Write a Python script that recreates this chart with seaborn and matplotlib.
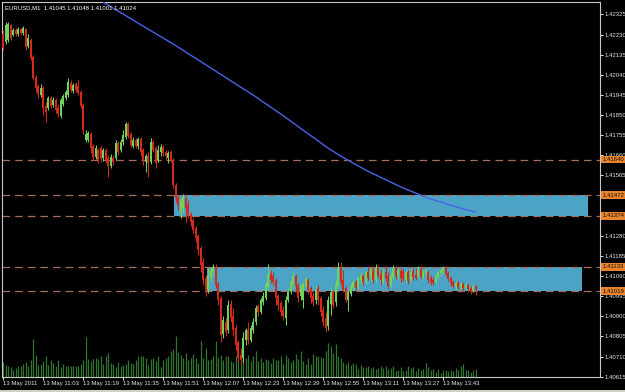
import matplotlib
matplotlib.use("Agg")
import matplotlib.pyplot as plt
import matplotlib.transforms as mtransforms
from matplotlib.patches import Rectangle
import numpy as np
import pandas as pd
import seaborn as sns

# ---------------- data (prices in 1e-5 units, EURUSD M1, 13 May 2011) ----------------
header = "EURUSD,M1  1.41045 1.41048 1.41001 1.41024"

open_pts = [
    142232, 142195, 142204, 142275, 142228, 142251, 142232, 142256, 142237, 142256,
    142176, 142204, 142124, 142030, 141987, 141945, 141978, 141893, 141883, 141930,
    141897, 141921, 141883, 141846, 141902, 141930, 141945, 142001, 141963, 141996,
    141987, 141959, 141897, 141732, 141732, 141760, 141704, 141652, 141685, 141694,
    141647, 141685, 141647, 141610, 141647, 141647, 141718, 141685, 141723, 141746,
    141808, 141760, 141704, 141732, 141704, 141737, 141685, 141628, 141657, 141628,
    141723, 141694, 141638, 141676, 141699, 141676, 141647, 141676, 141638, 141520,
    141463, 141392, 141411, 141458, 141425, 141383, 141355, 141317, 141279, 141222,
    141156, 141081, 141024, 141081, 141109, 141133, 141052, 140986, 140817, 140873,
    140835, 140958, 140902, 140845, 140779, 140717, 140703, 140788, 140835, 140788,
    140835, 140873, 140949, 140920, 140968, 140986, 141043, 141100, 141090, 141071,
    140996, 140963, 140930, 140892, 140977, 141015, 141048, 141090, 141048, 140996,
    140977, 141043, 141071, 141034, 140996, 140977, 141034, 140986, 140930, 140892,
    140854, 140958, 141015, 140968, 141043, 141128, 141071, 141034, 140977, 141005,
    141034, 141062, 141034, 141071, 141090, 141062, 141109, 141081, 141119, 141071,
    141128, 141100, 141062, 141109, 141090, 141048, 141081, 141128, 141090, 141114,
    141114, 141071, 141109, 141071, 141114, 141095, 141090, 141123, 141086, 141104,
    141109, 141081, 141071, 141062, 141086, 141104, 141114, 141128, 141104, 141081,
    141062, 141038, 141057, 141038, 141052, 141034, 141048, 141034, 141024, 141045,
]
high_pts = [
    142251, 142289, 142289, 142280, 142261, 142261, 142266, 142261, 142270, 142261,
    142232, 142214, 142133, 142039, 141996, 141996, 141987, 141912, 141940, 141940,
    141935, 141930, 141902, 141930, 141949, 141968, 142025, 142015, 142001, 142006,
    142015, 141968, 141907, 141779, 141775, 141770, 141713, 141709, 141694, 141704,
    141694, 141694, 141661, 141666, 141661, 141732, 141728, 141737, 141779, 141817,
    141817, 141770, 141746, 141742, 141746, 141746, 141694, 141666, 141676, 141742,
    141732, 141704, 141709, 141713, 141709, 141685, 141680, 141685, 141647, 141529,
    141473, 141458, 141477, 141468, 141449, 141392, 141364, 141326, 141288, 141232,
    141175, 141095, 141128, 141133, 141147, 141147, 141062, 140996, 140902, 140892,
    140977, 140977, 140939, 140859, 140788, 140750, 140826, 140845, 140873, 140859,
    140892, 140953, 140958, 140986, 141015, 141062, 141147, 141119, 141109, 141081,
    141005, 140977, 140949, 140996, 141034, 141071, 141109, 141100, 141057, 141052,
    141062, 141090, 141081, 141043, 141015, 141043, 141048, 140996, 140949, 140920,
    140996, 141034, 141024, 141071, 141156, 141156, 141119, 141043, 141024, 141057,
    141071, 141071, 141090, 141109, 141100, 141119, 141137, 141128, 141137, 141147,
    141142, 141119, 141128, 141137, 141109, 141104, 141142, 141137, 141133, 141128,
    141128, 141119, 141119, 141128, 141128, 141128, 141137, 141137, 141119, 141128,
    141119, 141095, 141086, 141100, 141119, 141128, 141137, 141137, 141114, 141090,
    141071, 141067, 141067, 141062, 141062, 141057, 141057, 141043, 141052, 141048,
]
low_pts = [
    142157, 142185, 142195, 142204, 142223, 142223, 142223, 142228, 142228, 142157,
    142166, 142110, 142015, 141959, 141930, 141935, 141850, 141817, 141874, 141883,
    141888, 141860, 141841, 141836, 141893, 141921, 141935, 141959, 141954, 141959,
    141945, 141883, 141760, 141723, 141723, 141671, 141638, 141643, 141624, 141628,
    141633, 141624, 141558, 141600, 141614, 141638, 141661, 141676, 141709, 141737,
    141742, 141699, 141694, 141694, 141690, 141657, 141614, 141581, 141558, 141619,
    141676, 141600, 141628, 141657, 141657, 141638, 141624, 141628, 141506, 141440,
    141402, 141364, 141392, 141345, 141364, 141326, 141293, 141251, 141189, 141109,
    141048, 140996, 141010, 141062, 141090, 141034, 140953, 140779, 140798, 140807,
    140821, 140873, 140807, 140741, 140684, 140670, 140684, 140765, 140769, 140779,
    140821, 140859, 140902, 140911, 140953, 140977, 141024, 141057, 141048, 140953,
    140930, 140902, 140883, 140859, 140968, 141005, 141034, 141015, 140968, 140977,
    140939, 141034, 141005, 140963, 140949, 140958, 140953, 140902, 140854, 140826,
    140835, 140906, 140939, 140949, 141034, 141048, 141015, 140968, 140925, 140996,
    141019, 141024, 141024, 141057, 141048, 141052, 141071, 141067, 141057, 141062,
    141081, 141052, 141052, 141067, 141029, 141038, 141071, 141076, 141076, 141062,
    141067, 141062, 141052, 141062, 141071, 141071, 141081, 141081, 141076, 141090,
    141057, 141048, 141048, 141052, 141076, 141090, 141100, 141090, 141067, 141043,
    141034, 141024, 141029, 141029, 141019, 141024, 141015, 141005, 141015, 141001,
]
close_pts = [
    142166, 142275, 142280, 142214, 142251, 142232, 142256, 142237, 142261, 142171,
    142214, 142119, 142025, 141978, 141949, 141978, 141883, 141864, 141930, 141893,
    141921, 141874, 141855, 141921, 141940, 141959, 142006, 141968, 141992, 141968,
    141954, 141893, 141779, 141760, 141765, 141694, 141652, 141694, 141638, 141647,
    141685, 141638, 141610, 141652, 141628, 141718, 141676, 141723, 141756, 141808,
    141751, 141709, 141732, 141704, 141737, 141676, 141638, 141657, 141624, 141723,
    141685, 141624, 141685, 141699, 141671, 141657, 141671, 141638, 141520, 141458,
    141421, 141449, 141463, 141411, 141378, 141345, 141307, 141270, 141213, 141142,
    141071, 141024, 141090, 141119, 141133, 141048, 140977, 140812, 140883, 140826,
    140953, 140892, 140835, 140765, 140703, 140694, 140798, 140835, 140788, 140845,
    140873, 140939, 140920, 140977, 140996, 141048, 141100, 141071, 141062, 140986,
    140953, 140920, 140902, 140977, 141015, 141062, 141090, 141043, 140986, 141043,
    141052, 141076, 141024, 140986, 140968, 141024, 140977, 140920, 140873, 140845,
    140977, 141015, 140953, 141052, 141128, 141062, 141024, 140977, 141015, 141043,
    141062, 141034, 141081, 141095, 141062, 141109, 141081, 141119, 141071, 141128,
    141090, 141071, 141109, 141081, 141043, 141090, 141128, 141090, 141119, 141081,
    141076, 141109, 141067, 141109, 141086, 141081, 141123, 141090, 141109, 141119,
    141071, 141062, 141057, 141090, 141109, 141119, 141128, 141100, 141076, 141057,
    141043, 141057, 141038, 141052, 141034, 141048, 141029, 141015, 141043, 141024,
]
volume = [
    15, 12, 11, 10, 7, 9, 11, 11, 13, 15,
    11, 17, 38, 22, 12, 13, 16, 21, 12, 17,
    14, 11, 17, 10, 13, 11, 11, 11, 11, 11,
    11, 13, 17, 40, 18, 16, 18, 19, 18, 21,
    13, 21, 24, 14, 13, 10, 15, 11, 12, 13,
    17, 14, 13, 17, 21, 21, 21, 19, 12, 18,
    19, 16, 21, 10, 17, 19, 21, 26, 28, 41,
    25, 22, 19, 24, 17, 19, 23, 19, 14, 36,
    19, 29, 17, 18, 21, 36, 20, 22, 17, 21,
    21, 16, 15, 21, 17, 26, 18, 19, 22, 16,
    21, 26, 16, 19, 15, 18, 17, 14, 19, 17,
    17, 21, 13, 22, 19, 15, 17, 23, 18, 26,
    16, 13, 19, 13, 23, 21, 21, 20, 19, 26,
    34, 31, 24, 33, 21, 19, 15, 13, 15, 12,
    14, 13, 8, 12, 10, 10, 11, 9, 10, 8,
    9, 11, 9, 11, 8, 9, 11, 6, 7, 10,
    6, 7, 11, 9, 10, 6, 9, 7, 8, 14,
    10, 7, 8, 5, 8, 4, 7, 7, 6, 7,
    6, 9, 7, 11, 13, 7, 7, 5, 7, 8,
]

# moving average (read at every 5th bar)
ma_bar = [40, 45, 50, 55, 60, 65, 70, 75, 80, 85, 90, 95, 100, 105, 110, 115,
          120, 125, 130, 135, 140, 145, 150, 155, 160, 165, 170, 175, 180, 185, 189]
ma_pts = [142384, 142348, 142313, 142277, 142242, 142207, 142171, 142133, 142096,
          142058, 142020, 141982, 141945, 141904, 141864, 141822, 141779, 141737,
          141694, 141657, 141624, 141591, 141562, 141534, 141506, 141482, 141458,
          141440, 141421, 141404, 141392]

# horizontal levels and zones
level_labels = ["1.41640", "1.41472", "1.41374", "1.41133", "1.41019"]
zone_low = [1.41374, 1.41019]
zone_high = [1.41472, 1.41133]
zone_start_bar = [68.4, 81.6]
zone_end_bar = [234.0, 231.6]

# axis labels
xtick_bars = [0, 16, 32, 48, 64, 80, 96, 112, 128, 144, 160, 176]
xtick_labels = ["13 May 2011", "13 May 11:03", "13 May 11:19", "13 May 11:35",
                "13 May 11:51", "13 May 12:07", "13 May 12:23", "13 May 12:39",
                "13 May 12:55", "13 May 13:11", "13 May 13:27", "13 May 13:43"]
ytick_labels = ["1.42325", "1.42230", "1.42135", "1.42040", "1.41945", "1.41850",
                "1.41755", "1.41660", "1.41565", "1.41470", "1.41375", "1.41280",
                "1.41185", "1.41090", "1.40995", "1.40900", "1.40805", "1.40710",
                "1.40615"]
# grid labels fully covered by the level labels in the chart
hidden_ytick_labels = ["1.41470", "1.41375"]

# ---------------- build frames ----------------
df = pd.DataFrame({
    "bar": np.arange(len(close_pts)),
    "open": np.array(open_pts) / 1e5,
    "high": np.array(high_pts) / 1e5,
    "low": np.array(low_pts) / 1e5,
    "close": np.array(close_pts) / 1e5,
    "volume": volume,
})
ma_df = pd.DataFrame({"bar": ma_bar, "ma": np.array(ma_pts) / 1e5})
level_prices = [float(s) for s in level_labels]
ytick_vals = [float(s) for s in ytick_labels]
ytick_shown = ["" if s in hidden_ytick_labels else s for s in ytick_labels]

# ---------------- style ----------------
sns.set_style("dark", {"axes.facecolor": "black", "figure.facecolor": "black"})
plt.rcParams["font.family"] = ["Liberation Sans", "DejaVu Sans"]
plt.rcParams["lines.scale_dashes"] = False
FS = 4.3

W, H = 625, 392
fig = plt.figure(figsize=(W / 100, H / 100), dpi=100)
fig.patch.set_facecolor("black")
pos = [2 / W, 1 - 377 / H, 598 / W, 375 / H]

axv = fig.add_axes(pos)
ax = fig.add_axes(pos, sharex=axv)
ax.patch.set_visible(False)
axv.set_facecolor("black")

XMIN, XMAX = -0.4, 238.8
YMIN, YMAX = 1.406136, 1.423836

# volumes (behind everything)
axv.vlines(df["bar"], 0, df["volume"], colors="#327530", linewidth=0.9)
axv.set_ylim(0, 375)
axv.set_xlim(XMIN, XMAX)
axv.set_yticks([])
axv.tick_params(bottom=False, labelbottom=False, left=False, labelleft=False)
axv.grid(False)
for s in axv.spines.values():
    s.set_visible(False)

# zones
for lo, hi, x0, x1 in zip(zone_low, zone_high, zone_start_bar, zone_end_bar):
    ax.add_patch(Rectangle((x0, lo), x1 - x0, hi - lo, facecolor="#4ba3c6",
                           edgecolor="none", zorder=1))

# level lines
for p in level_prices:
    ax.axhline(p, color="#a86c5a", linewidth=0.9, dashes=(5.5, 3.6), zorder=2)

# candles
bull = df["close"] >= df["open"]
colors = np.where(bull, "#6fd35a", "#d42a1a")
ax.vlines(df["bar"], df["low"], df["high"], colors=colors, linewidth=0.75, zorder=3)
body_lo = np.minimum(df["open"], df["close"])
body_h = np.maximum((df["close"] - df["open"]).abs(), 0.00003)
ax.bar(df["bar"], body_h, bottom=body_lo, width=0.66, color=colors,
       linewidth=0, zorder=3)

# moving average
sns.lineplot(data=ma_df, x="bar", y="ma", ax=ax, color="#4b62e6",
             linewidth=1.0, zorder=4)

ax.set_xlim(XMIN, XMAX)
ax.set_ylim(YMIN, YMAX)
ax.set_xlabel("")
ax.set_ylabel("")
ax.grid(False)

# axes decoration
ax.yaxis.tick_right()
ax.set_yticks(ytick_vals)
ax.set_yticklabels(ytick_shown)
ax.tick_params(axis="y", right=True, left=False, labelright=True, labelleft=False,
               colors="#e4e4e4", labelsize=FS, length=2.2, width=0.7, pad=1.0,
               direction="out")
ax.set_xticks(xtick_bars)
ax.set_xticklabels(xtick_labels, ha="left")
ax.tick_params(axis="x", bottom=True, colors="#e4e4e4", labelsize=FS, length=2.2,
               width=0.7, pad=1.0, direction="out")
for s in ax.spines.values():
    s.set_visible(True)
    s.set_color("#c8c8c8")
    s.set_linewidth(0.8)

# orange price labels for the levels
trans = mtransforms.blended_transform_factory(ax.transAxes, ax.transData)
for p, lab in zip(level_prices, level_labels):
    ax.text(1.0 + 2.5 / 598, p, lab, transform=trans, ha="left", va="center",
            fontsize=FS, color="#1a0a00", zorder=20, clip_on=False,
            bbox=dict(boxstyle="square,pad=0.2", fc="#e8842e", ec="none"))

# header
fig.text(5 / W, 1 - 7.5 / H, header, color="white", fontsize=FS, ha="left", va="center")

# bottom window frame strip
fig.patches.append(Rectangle((0, 0), 1, 2.5 / H, transform=fig.transFigure,
                             facecolor="#d4d0c8", edgecolor="none"))

fig.savefig("out.png", dpi=100, facecolor="black")
